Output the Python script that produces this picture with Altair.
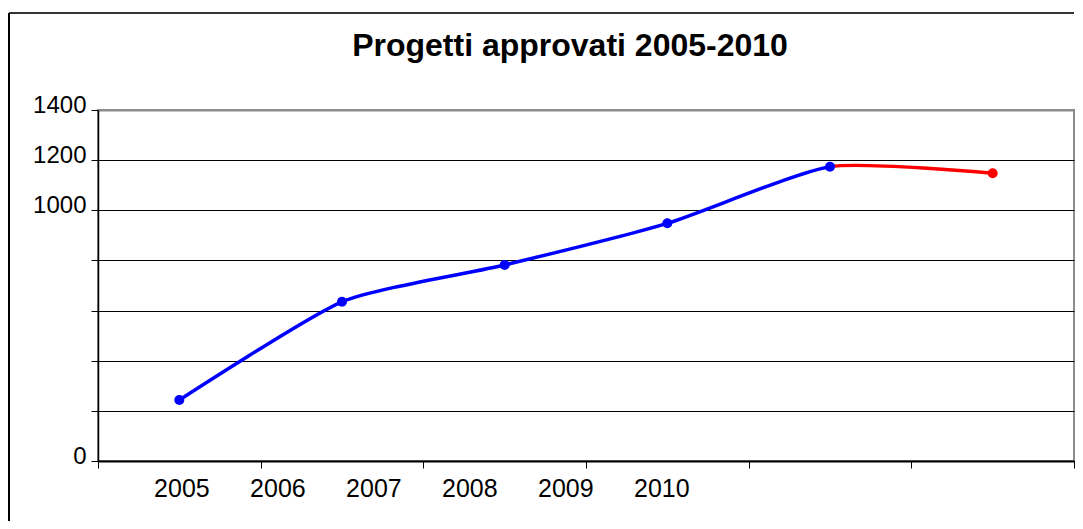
import altair as alt
import pandas as pd

# ---- data ----
years = ["2005", "2006", "2007", "2008", "2009", "2010"]
values = [243, 635, 782, 948, 1174, 1148]
kind = ["consuntivo", "consuntivo", "consuntivo", "consuntivo", "consuntivo", "previsione"]
y_ticks = [0, 200, 400, 600, 800, 1000, 1200, 1400]
x_ticks = [0, 1, 2, 3, 4, 5, 6]

n = len(years)
df = pd.DataFrame({"year": years, "value": values, "kind": kind, "idx": list(range(n))})
lab = pd.DataFrame({"year": years, "idx": list(range(n))})

BLUE = "#0000FF"
RED = "#FF0000"
FONT = "Liberation Sans"

xscale = alt.Scale(domain=[0, 6], nice=False, zero=False)
yscale = alt.Scale(domain=[0, 1400], nice=False)

split = (n - 2) / (n - 1)
grad = alt.LinearGradient(
    gradient="linear", x1=0, x2=1, y1=0, y2=0,
    stops=[alt.GradientStop(color=BLUE, offset=0),
           alt.GradientStop(color=BLUE, offset=split),
           alt.GradientStop(color=RED, offset=split),
           alt.GradientStop(color=RED, offset=1)])

base = alt.Chart(df).transform_calculate(x="datum.idx + 0.5")

line = base.mark_line(interpolate="cardinal", tension=0.4, strokeWidth=3.5, color=grad).encode(
    x=alt.X("x:Q", scale=xscale,
            axis=alt.Axis(values=x_ticks, labels=False, grid=False, tickSize=7,
                          tickColor="black", domainColor="black", domainWidth=2,
                          tickWidth=1, title=None)),
    y=alt.Y("value:Q", scale=yscale,
            axis=alt.Axis(values=y_ticks, format="d",
                          labelExpr="datum.value == 0 || datum.value >= 1000 ? datum.label : ''",
                          grid=True,
                          gridColor={"condition": {"test": "datum.value === 1400", "value": "#8c8c8c"}, "value": "black"},
                          gridWidth={"condition": {"test": "datum.value === 1400", "value": 2}, "value": 1},
                          tickSize=7, tickColor="black", domainColor="black", domainWidth=1.5,
                          labelFont=FONT, labelFontSize=24, labelColor="black",
                          labelPadding=5, labelBaseline="middle", labelOffset=-5,
                          title=None)),
)

points = base.mark_point(filled=True, size=100, opacity=1).encode(
    x=alt.X("x:Q", scale=xscale),
    y=alt.Y("value:Q", scale=yscale),
    color=alt.Color("kind:N", scale=alt.Scale(domain=["consuntivo", "previsione"], range=[BLUE, RED]), legend=None),
)

labels = alt.Chart(lab).transform_calculate(x="0.516 + 0.59 * datum.idx").mark_text(
    font=FONT, fontSize=25, color="black", baseline="middle", align="center"
).encode(
    x=alt.X("x:Q", scale=xscale),
    y=alt.value(379),
    text="year:N",
)

frame_top = alt.Chart(df).mark_rule(color="#333333", strokeWidth=2).encode(
    x=alt.value(-89), x2=alt.value(976), y=alt.value(-97))
frame_left = alt.Chart(df).mark_rule(color="black", strokeWidth=2).encode(
    x=alt.value(-89), y=alt.value(-97), y2=alt.value(420))

chart = alt.layer(frame_top, frame_left, line, points, labels).properties(
    width=976, height=351,
    padding={"left": 90, "top": 102, "right": 1, "bottom": 60},
    autosize=alt.AutoSizeParams(type="none"),
    background="white",
    title=alt.TitleParams("Progetti approvati 2005-2010", font=FONT, fontSize=32,
                          fontWeight="bold", color="black", anchor="middle",
                          dx=-16, offset=0, dy=51),
).configure_view(stroke="#8c8c8c", strokeWidth=2)

chart.save("out.html", embed_options={"renderer": "svg", "actions": False})
